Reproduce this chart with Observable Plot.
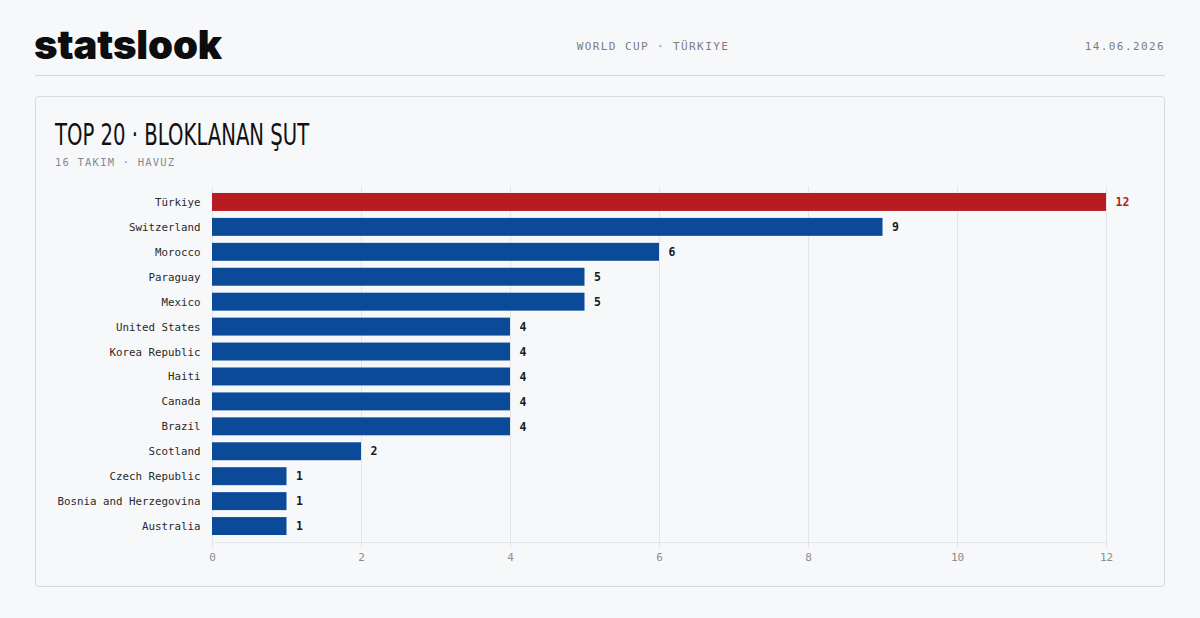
<!DOCTYPE html>
<html>
<head>
<meta charset="utf-8">
<script src="https://cdn.jsdelivr.net/npm/d3@7"></script>
<script src="https://cdn.jsdelivr.net/npm/@observablehq/plot@0.6"></script>
<style>
  html, body { margin: 0; padding: 0; background: #f7f8fa; }
  #page { position: relative; width: 1200px; height: 618px; overflow: hidden; background: #f7f8fa; }
  .logo { position: absolute; left: 34px; top: 25px; font-family: "Inter", "Lato", sans-serif; font-weight: 900; font-size: 40px; letter-spacing: -0.1px; color: #0d0d0d; line-height: 1; }
  .mid { position: absolute; left: 0; width: 1306px; top: 40px; text-align: center; font-family: "DejaVu Sans Mono", monospace; font-size: 11px; letter-spacing: 1.4px; color: #7a7d82; }
  .date { position: absolute; right: 35px; top: 40px; font-family: "DejaVu Sans Mono", monospace; font-size: 11px; letter-spacing: 1.4px; color: #7a7d82; }
  .hline { position: absolute; left: 35px; width: 1130px; top: 75px; height: 1px; background: #d4d6d9; }
  .card { position: absolute; left: 35px; top: 96px; width: 1128px; height: 489px; border: 1px solid #d6d9dc; border-radius: 4px; background: #f7f8fa; }
  .title { position: absolute; left: 55px; top: 120px; font-family: "DejaVu Sans", sans-serif; font-size: 30px; color: #111; line-height: 1; transform: scaleX(0.655); transform-origin: 0 0; white-space: nowrap; }
  .sub { position: absolute; left: 55px; top: 156px; font-family: "DejaVu Sans Mono", monospace; font-size: 10.5px; letter-spacing: 1.2px; color: #85888d; }
  #chart { position: absolute; left: 35px; top: 180px; }
</style>
</head>
<body>
<div id="page">
  <div class="logo">statslook</div>
  <div class="mid">WORLD CUP · TÜRKIYE</div>
  <div class="date">14.06.2026</div>
  <div class="hline"></div>
  <div class="card"></div>
  <div class="title">TOP 20 · BLOKLANAN ŞUT</div>
  <div class="sub">16 TAKIM · HAVUZ</div>
  <div id="chart"></div>
</div>
<script>
const teams = ["Türkiye", "Switzerland", "Morocco", "Paraguay", "Mexico", "United States", "Korea Republic", "Haiti", "Canada", "Brazil", "Scotland", "Czech Republic", "Bosnia and Herzegovina", "Australia"];
const blocked = [12, 9, 6, 5, 5, 4, 4, 4, 4, 4, 2, 1, 1, 1];
const xTicks = [0, 2, 4, 6, 8, 10, 12];
const highlight = "Türkiye";

const data = teams.map((t, i) => ({team: t, value: blocked[i], hi: t === highlight}));

const mono = "DejaVu Sans Mono, monospace";

const chart = Plot.plot({
  width: 1130,
  height: 400,
  marginLeft: 177,
  marginRight: 59,
  marginTop: 6,
  marginBottom: 38,
  style: {background: "transparent", fontFamily: mono, fontSize: "10.8px", color: "#333"},
  x: {domain: [0, 12], ticks: xTicks, label: null},
  y: {domain: teams, padding: 0.28, round: false, label: null},
  marks: [
    Plot.gridX(xTicks, {stroke: "#e3e5e8", strokeOpacity: 1, strokeWidth: 1}),
    Plot.frame({anchor: "bottom", stroke: "#e3e5e8"}),
    Plot.axisX({ticks: xTicks, tickSize: 6, tickPadding: 5, stroke: "#e3e5e8", fill: "#8a8d92", fontSize: 11, label: null}),
    Plot.axisY({tickSize: 0, tickPadding: 12, fill: "#2a2a2a", fontSize: 10.8, label: null}),
    Plot.barX(data, {y: "team", x: "value", fill: d => d.hi ? "#b81c22" : "#0b4a99"}),
    Plot.text(data, {y: "team", x: "value", text: d => String(d.value), dx: 9, textAnchor: "start", fontWeight: "bold", fontSize: 11.5, fill: d => d.hi ? "#b81c22" : "#1a1a1a"})
  ]
});
document.getElementById("chart").appendChild(chart);
</script>
</body>
</html>
